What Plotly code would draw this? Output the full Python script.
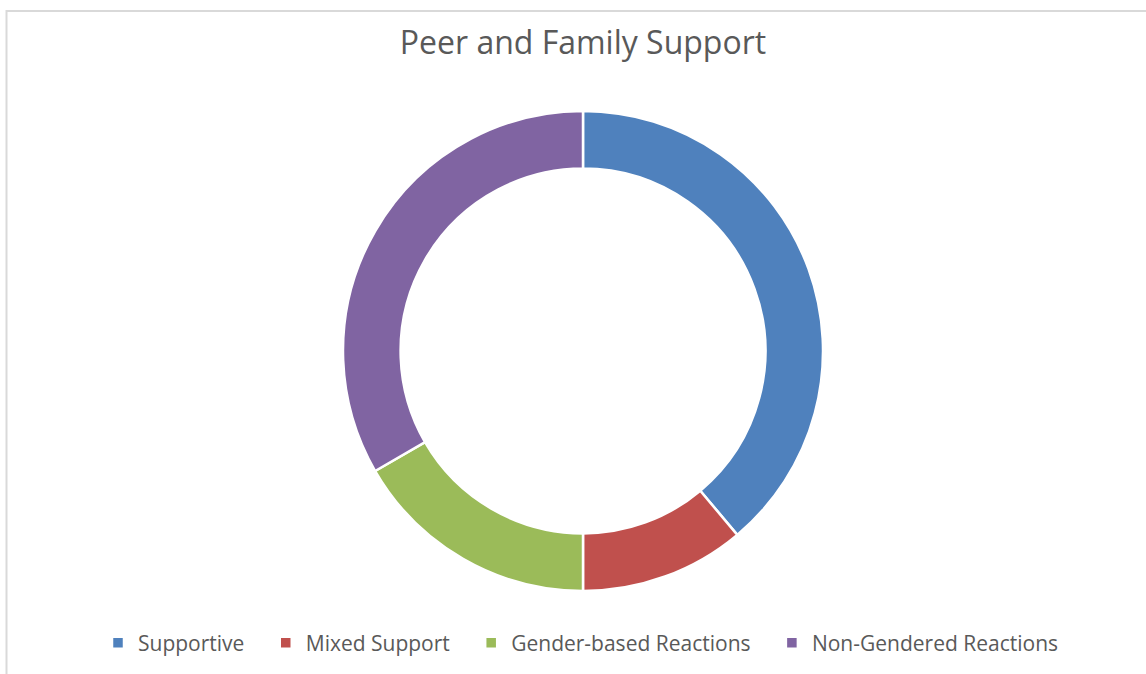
import plotly.graph_objects as go

categories = ["Supportive", "Mixed Support", "Gender-based Reactions", "Non-Gendered Reactions"]
values = [7, 2, 3, 6]
colors = ["#4F81BD", "#C0504D", "#9BBB59", "#8064A2"]

W, H = 1146, 674
cx, cy, r = 583, 351, 240

# legend labels padded with non-breaking spaces to widen the gap between entries
pad = "\u00a0\u00a0\u00a0"
legend_labels = [c + pad for c in categories[:-1]] + [categories[-1]]

fig = go.Figure(go.Pie(
    labels=legend_labels,
    values=values,
    hole=0.76,
    sort=False,
    direction="clockwise",
    rotation=0,
    textinfo="none",
    customdata=categories,
    hovertemplate="%{customdata}: %{value} (%{percent})<extra></extra>",
    marker=dict(colors=colors, line=dict(color="white", width=2.5)),
    domain=dict(x=[(cx - r) / W, (cx + r) / W], y=[(H - cy - r) / H, (H - cy + r) / H]),
))

fig.update_layout(
    width=W, height=H,
    margin=dict(l=0, r=0, t=0, b=0),
    paper_bgcolor="white",
    font=dict(family="Open Sans", color="#595959"),
    title=dict(text="Peer and Family Support", x=583 / W, xanchor="center",
               y=1 - 43 / H, yanchor="middle",
               font=dict(family="Open Sans", size=32, color="#595959")),
    legend=dict(orientation="h", x=581 / W, xanchor="center", y=1 - 643 / H, yanchor="middle",
                font=dict(family="Open Sans", size=21, color="#595959"),
                bgcolor="rgba(0,0,0,0)"),
    shapes=[dict(type="rect", xref="paper", yref="paper",
                 x0=6.5 / W, x1=1.01, y0=-0.01, y1=1 - 11 / H,
                 line=dict(color="#D9D9D9", width=2), fillcolor="rgba(0,0,0,0)", layer="below")],
)

fig.write_html("out.html", config={"displayModeBar": False},
               post_script="document.body.style.margin='0';document.body.style.overflow='hidden';")
